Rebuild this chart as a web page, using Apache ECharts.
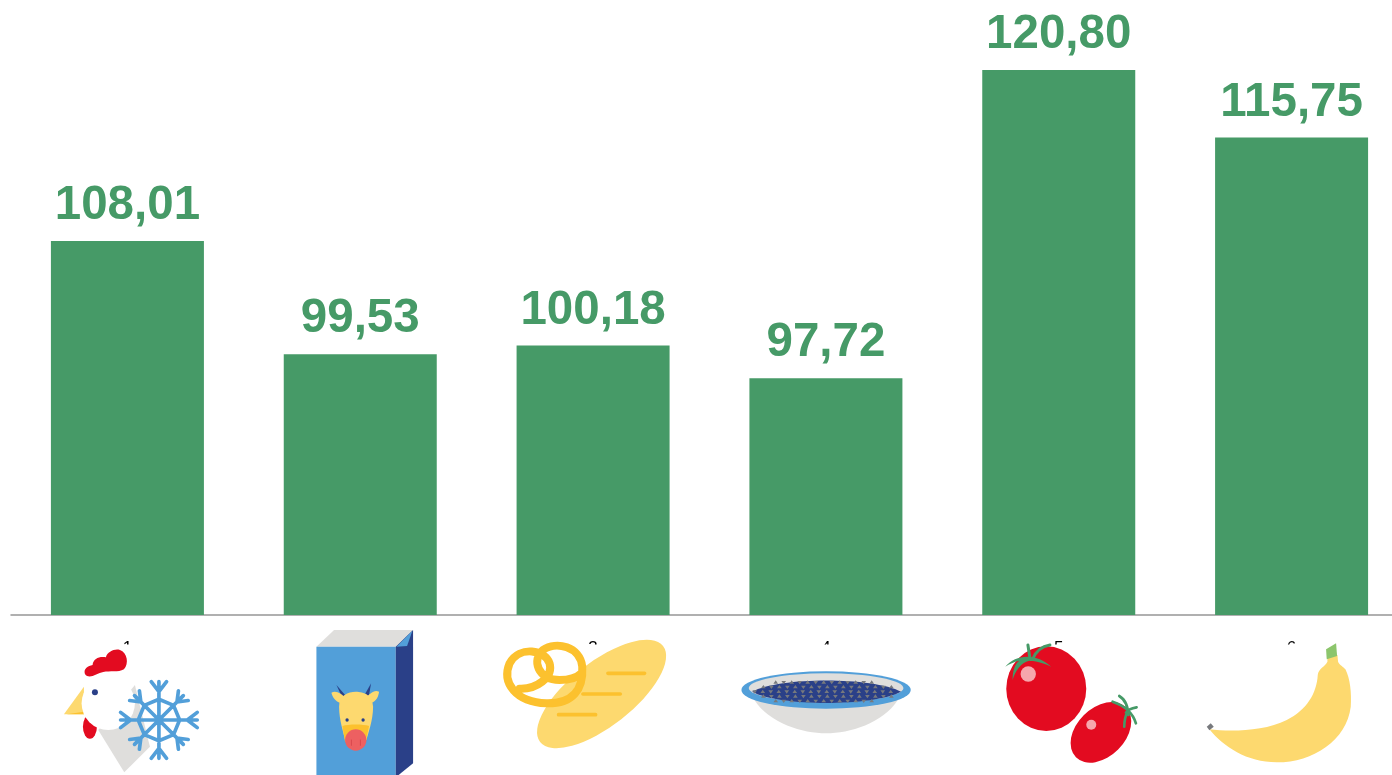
<!DOCTYPE html>
<html>
<head>
<meta charset="utf-8">
<style>html,body{margin:0;padding:0;background:#fff;overflow:hidden}#c{width:1392px;height:775px}</style>
<script src="https://cdn.jsdelivr.net/npm/echarts@6/dist/echarts.min.js"></script>
</head>
<body>
<div id="c"></div>
<script>
const categories = ['1', '2', '3', '4', '5', '6'];
const values = [108.01, 99.53, 100.18, 97.72, 120.80, 115.75];
const GREEN = '#469a67', RED = '#e30b20', BLUE = '#529fd9', NAVY = '#2a4088',
      GREY = '#dfdedc', YELLOW = '#fdd96f', AMBER = '#fcc12e', PINK = '#f6a6ac';

/* ---- decorative pictograms, path coordinates are in a 3x drawing space ---- */
const circle = (x, y, r, ry) => { ry = ry || r; return `M${x - r},${y}A${r},${ry} 0 1 1 ${x + r},${y}A${r},${ry} 0 1 1 ${x - r},${y}Z`; };
const tilted = (x, y, rx, ry, deg) => {
  const a = deg * Math.PI / 180, dx = rx * Math.cos(a), dy = rx * Math.sin(a);
  return `M${x - dx},${y - dy}A${rx},${ry} ${deg} 1 1 ${x + dx},${y + dy}A${rx},${ry} ${deg} 1 1 ${x - dx},${y - dy}Z`;
};
function snowflake(cx, cy, r) {
  let d = '', ring = '';
  for (let i = 0; i < 8; i++) {
    const a = i * Math.PI / 4, R = i % 2 ? r * 0.9 : r;
    const u = [Math.cos(a), Math.sin(a)], v = [-u[1], u[0]];
    const P = (s, t) => `${cx + u[0] * s + v[0] * t},${cy + u[1] * s + v[1] * t}`;
    d += `M${cx},${cy}L${P(R, 0)}`;
    d += `M${P(R * 0.74, 0)}L${P(R, R * 0.2)}M${P(R * 0.74, 0)}L${P(R, -R * 0.2)}`;
    ring += (i ? 'L' : 'M') + P(r * 0.54, 0);
  }
  return d + ring + 'Z';
}
function seeds() {
  let d = '';
  for (let row = 0; row < 5; row++) {
    const y = 247 + row * 14, half = 220 * Math.sqrt(Math.max(0, 1 - Math.pow((y - 275) / 40, 2)));
    for (let x = 1100 - half + (row % 2) * 12 + 6; x < 1100 + half - 4; x += 24) {
      const flip = Math.round(x / 24) % 2 ? -1 : 1;
      d += `M${x},${y - 6 * flip}L${x + 7},${y + 4 * flip}L${x - 7},${y + 4 * flip}Z`;
    }
  }
  return d;
}
const pretzel = 'M180,266C230,268 282,232 270,190C258,150 180,135 150,190C125,250 170,306 260,310C340,312 372,268 368,200C362,140 290,122 250,150C215,180 235,240 300,240C325,240 350,235 365,220';

const iconChicken = {anchor: 127.5, parts: [
  {d: 'M295,390L373,517L450,440L405,255Z', fill: GREY},
  {d: circle(270, 380, 21, 36), fill: RED},
  {d: 'M252,260L192,343L252,343Z', fill: YELLOW},
  {d: 'M252,335L200,343L252,343Z', fill: AMBER},
  {d: circle(325, 310, 80), fill: '#fff'},
  {d: 'M255,222C250,205 265,198 278,195C280,175 300,168 318,172C322,155 345,145 360,150C382,158 388,190 372,208C355,218 330,212 310,216C290,220 268,240 255,222Z', fill: RED},
  {d: circle(285, 277, 9), fill: NAVY},
  {d: snowflake(477, 360, 115), stroke: BLUE, width: 11}
]};
const iconBox = {anchor: 360.5, parts: [
  {d: 'M950,140L1003,90L1240,90L1188,140Z', fill: GREY},
  {d: 'M950,140L1188,140L1188,530L950,530Z', fill: BLUE},
  {d: 'M1188,140L1240,90L1240,490L1188,532Z', fill: NAVY},
  {d: 'M1190,140L1238,92L1222,138Z', fill: BLUE},
  {d: 'M1030,298L1010,255L1046,296Z', fill: NAVY},
  {d: 'M1088,296L1114,250L1106,296Z', fill: NAVY},
  {d: 'M995,278C1010,270 1025,282 1040,296L1020,308C1005,302 998,290 995,278Z', fill: YELLOW},
  {d: 'M1138,275C1122,268 1110,282 1096,296L1116,308C1130,302 1136,290 1138,275Z', fill: YELLOW},
  {d: 'M1018,320C1018,285 1045,275 1068,275C1092,275 1120,285 1120,320C1120,360 1105,400 1100,420L1036,420C1032,400 1018,360 1018,320Z', fill: YELLOW},
  {d: 'M1028,378C1045,372 1092,372 1108,378L1098,425L1036,425Z', fill: AMBER},
  {d: circle(1068, 420, 32), fill: '#ed6061'},
  {d: 'M1055,420L1055,436M1082,420L1082,436', stroke: '#d9484d', width: 3},
  {d: circle(1042, 360, 5), fill: NAVY},
  {d: circle(1090, 360, 5), fill: NAVY}
]};
const iconBread = {anchor: 133.5, parts: [
  {d: tilted(426, 282, 234, 96, -38), fill: YELLOW},
  {d: 'M445,220L555,220M370,282L482,282M297,344L408,344', stroke: AMBER, width: 11},
  {d: pretzel, stroke: AMBER, width: 24}
]};
const iconBowl = {anchor: 366.5, parts: [
  {d: 'M885,300C930,370 1030,400 1100,400C1170,400 1270,370 1315,300Z', fill: GREY},
  {d: circle(1100, 270, 254, 56), fill: BLUE},
  {d: circle(1100, 264, 232, 44), fill: GREY},
  {d: 'M878,275C960,230 1240,230 1325,275C1240,320 960,320 878,275Z', fill: NAVY},
  {d: seeds(), fill: '#77797d'}
]};
const iconTomato = {anchor: 129.5, parts: [
  {d: circle(351, 266, 120, 127), fill: RED},
  {d: circle(297, 222, 23), fill: PINK},
  {d: 'M228,200C260,160 325,160 366,200C330,182 310,184 300,182C275,188 258,212 250,240C250,210 258,190 270,182C255,185 240,192 228,200Z', fill: GREEN},
  {d: 'M296,135L302,175M362,135C330,140 318,158 310,178', stroke: GREEN, width: 9},
  {d: tilted(515, 397, 106, 73, -45), fill: RED},
  {d: circle(486, 374, 15), fill: PINK},
  {d: 'M570,288C590,300 595,320 598,345M550,305C580,315 610,335 620,370M622,322C605,325 595,330 590,338M585,380C585,360 590,345 595,335', stroke: GREEN, width: 8}
]};
const iconBanana = {anchor: 361.5, parts: [
  {d: 'M838,388C900,395 1000,395 1070,360C1130,330 1160,280 1163,225C1165,205 1185,200 1192,185L1192,170L1222,165L1224,185C1228,195 1240,200 1246,208C1260,235 1265,280 1262,320C1250,420 1150,487 1040,487C950,487 880,440 838,388Z', fill: YELLOW},
  {d: 'M1188,148L1218,130L1221,168L1190,178Z', fill: '#8cc56c'},
  {d: 'M830,380L842,370L851,380L838,391Z', fill: '#77797d'}
]};
const icons = [iconChicken, iconBox, iconBread, iconBowl, iconTomato, iconBanana];

const chart = echarts.init(document.getElementById('c'), null, {renderer: 'canvas'});
chart.setOption({
  animation: false,
  backgroundColor: '#fff',
  grid: {left: 11, top: 14, width: 1397, height: 601, outerBoundsMode: 'none'},
  xAxis: {
    type: 'category', data: categories,
    axisLine: {lineStyle: {color: '#969696', width: 1.5}},
    axisTick: {show: false},
    axisLabel: {color: '#000', fontSize: 17, fontFamily: 'Liberation Sans', margin: 25}
  },
  yAxis: {type: 'value', min: 80, max: 125, show: false, splitLine: {show: false}},
  graphic: {elements: [
    {type: 'rect', z: 50, silent: true, shape: {x: 0, y: 644.5, width: 1392, height: 131}, style: {fill: '#fff'}}
  ]},
  series: [{
    type: 'bar', data: values, barWidth: 153,
    itemStyle: {color: GREEN},
    label: {
      show: true, position: 'top', distance: 11, color: GREEN,
      fontFamily: 'Liberation Sans', fontWeight: 'bold', fontSize: 47.5,
      formatter: p => p.value.toFixed(2).replace('.', ',')
    }
  }, {
    type: 'custom', z: 60, silent: true, clip: false,
    data: categories.map((c, i) => [i, 80]),
    encode: {x: 0, y: 1},
    renderItem: (params, api) => {
      const icon = icons[params.dataIndex];
      const base = api.coord([api.value(0), 80]);
      return {
        type: 'group',
        x: base[0] - icon.anchor, y: base[1] - 15,
        scaleX: 1 / 3, scaleY: 1 / 3,
        children: icon.parts.map(p => ({
          type: 'path',
          shape: {pathData: p.d},
          style: p.stroke
            ? {fill: null, stroke: p.stroke, lineWidth: p.width, lineCap: 'round', lineJoin: 'round'}
            : {fill: p.fill}
        }))
      };
    }
  }]
});
</script>
</body>
</html>
